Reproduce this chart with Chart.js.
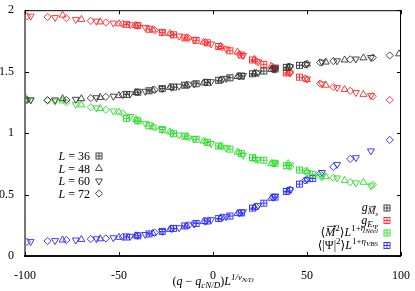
<!DOCTYPE html>
<html><head><meta charset="utf-8">
<script src="https://cdn.jsdelivr.net/npm/chart.js@4.4.0/dist/chart.umd.min.js"></script>
<style>html,body{margin:0;padding:0;background:#fff;}#wrap{width:415px;height:291px;position:relative;}</style>
</head><body><div id="wrap"><canvas id="c" width="415" height="291"></canvas></div>
<script>
// ---- data ----
const xTicks = [-100, -50, 0, 50, 100];
const yTicks = [0, 0.5, 1, 1.5, 2];
const sizes = ['36', '48', '60', '72'];

const x36 = [-46, -40, -34, -27, -21, -15, -9, -3, 3, 9, 15, 21, 27, 33, 39, 46, 53];
const gMs36 = [1.315, 1.333, 1.345, 1.362, 1.375, 1.39, 1.402, 1.413, 1.43, 1.45, 1.465, 1.483, 1.505, 1.522, 1.535, 1.552, null];
const gE36 = [1.885, 1.875, 1.845, 1.82, 1.80, 1.775, 1.755, 1.735, 1.705, 1.67, 1.635, 1.595, 1.56, 1.53, 1.49, 1.455, null];
const neel36 = [1.12, 1.10, 1.06, 1.03, 0.995, 0.975, 0.95, 0.925, 0.895, 0.87, 0.835, 0.80, 0.78, 0.755, 0.735, 0.70, 0.665];
const vbs36 = [0.155, 0.165, 0.18, 0.20, 0.225, 0.245, 0.265, 0.285, 0.305, 0.325, 0.35, 0.39, 0.43, 0.48, 0.525, 0.585, 0.63];

const x48 = [-100, -80, -70, -60, -50, -41, -32, -23, -14, -5, 4, 13, 22, 31, 40, 50, 60, 70, 80, 99];
const gMs48 = [1.27, 1.28, 1.28, 1.29, 1.305, 1.33, 1.35, 1.372, 1.39, 1.408, 1.432, 1.46, 1.486, 1.518, 1.538, 1.562, 1.578, 1.595, 1.612, 1.645];
const gE48 = [null, 1.96, 1.925, 1.905, 1.89, 1.876, 1.84, 1.81, 1.775, 1.74, 1.705, 1.66, 1.60, 1.545, 1.49, 1.435, 1.39, 1.355, 1.315, null];
const neel48 = [1.298, 1.262, 1.23, 1.20, 1.17, 1.11, 1.05, 1.01, 0.97, 0.935, 0.895, 0.845, 0.79, 0.752, 0.752, 0.69, 0.645, 0.615, 0.60, null];
const vbs48 = [null, 0.13, 0.135, 0.14, 0.152, 0.165, 0.185, 0.215, 0.245, 0.28, 0.31, 0.345, 0.395, 0.47, 0.53, 0.625, null, null, null, null];

const x60 = [-97, -84, -73, -62, -53, -44, -36, -27, -18, -10, -1, 7, 16, 24, 33, 41, 50, 58, 66, 76, 84];
const gMs60 = [1.27, 1.27, 1.275, 1.288, 1.30, 1.32, 1.34, 1.362, 1.382, 1.40, 1.418, 1.445, 1.468, 1.49, 1.52, 1.54, 1.56, 1.578, 1.588, 1.603, 1.615];
const gE60 = [1.952, 1.94, 1.925, 1.91, 1.895, 1.882, 1.86, 1.822, 1.79, 1.76, 1.725, 1.685, 1.632, 1.58, 1.532, 1.49, 1.44, 1.40, 1.37, 1.33, 1.305];
const neel60 = [1.27, 1.26, 1.235, 1.205, 1.18, 1.135, 1.08, 1.03, 0.985, 0.955, 0.915, 0.88, 0.82, 0.785, 0.755, 0.74, 0.68, 0.645, 0.635, 0.595, 0.57];
const vbs60 = [0.117, 0.125, 0.13, 0.14, 0.148, 0.16, 0.175, 0.2, 0.23, 0.26, 0.295, 0.32, 0.36, 0.41, 0.485, 0.54, 0.62, 0.68, 0.745, 0.80, 0.855];

const x72 = [-99, -88, -78, -65, -57, -48, -40, -31, -22, -13, -4, 5, 14, 23, 32, 41, 49, 57, 64, 73, 85, 94];
const gMs72 = [1.27, 1.268, 1.27, 1.285, 1.295, 1.31, 1.333, 1.352, 1.372, 1.392, 1.412, 1.437, 1.462, 1.49, 1.52, 1.54, 1.558, 1.575, 1.586, 1.6, 1.615, 1.632];
const gE72 = [1.95, 1.945, 1.935, 1.913, 1.9, 1.888, 1.875, 1.836, 1.802, 1.772, 1.738, 1.697, 1.643, 1.588, 1.537, 1.49, 1.445, 1.403, 1.375, 1.344, 1.30, 1.27];
const neel72 = [1.27, 1.265, 1.25, 1.21, 1.19, 1.16, 1.10, 1.045, 1.0, 0.965, 0.93, 0.89, 0.84, 0.785, 0.755, 0.725, 0.69, 0.65, 0.637, 0.60, 0.58, null];
const vbs72 = [0.115, 0.122, 0.13, 0.138, 0.143, 0.155, 0.165, 0.19, 0.22, 0.25, 0.28, 0.315, 0.35, 0.40, 0.475, 0.54, 0.615, 0.67, 0.725, 0.79, null, 0.945];

// ---- styling ----
const FONT = '"Liberation Serif", "DejaVu Serif", serif';
const colors = {gMs: '#333333', gE: '#ff2828', neel: '#28dd28', vbs: '#2828ff'};

function boxPlus(color) {
  const c = document.createElement('canvas');
  c.width = 9; c.height = 9;
  const g = c.getContext('2d');
  g.strokeStyle = color; g.lineWidth = 0.9;
  g.strokeRect(1.5, 1.5, 6, 6);
  g.beginPath();
  g.moveTo(4.5, 1.5); g.lineTo(4.5, 7.5);
  g.moveTo(1.5, 4.5); g.lineTo(7.5, 4.5);
  g.stroke();
  return c;
}
function markerFor(L, color) {
  if (L === '36') return {pointStyle: boxPlus(color), rotation: 0, radius: 4.5};
  if (L === '48') return {pointStyle: 'triangle', rotation: 0, radius: 4};
  if (L === '60') return {pointStyle: 'triangle', rotation: 180, radius: 4};
  return {pointStyle: 'rectRot', rotation: 0, radius: 3.6};
}

const xs = {'36': x36, '48': x48, '60': x60, '72': x72};
const series = {
  gMs: {'36': gMs36, '48': gMs48, '60': gMs60, '72': gMs72},
  gE: {'36': gE36, '48': gE48, '60': gE60, '72': gE72},
  neel: {'36': neel36, '48': neel48, '60': neel60, '72': neel72},
  vbs: {'36': vbs36, '48': vbs48, '60': vbs60, '72': vbs72}
};

const datasets = [];
for (const q of ['gMs', 'gE', 'neel', 'vbs']) {
  for (const L of sizes) {
    const pts = [];
    xs[L].forEach((xv, i) => { const yv = series[q][L][i]; if (yv !== null) pts.push({x: xv, y: yv}); });
    const m = markerFor(L, colors[q]);
    datasets.push({
      label: q + ' L=' + L, data: pts, showLine: false,
      pointStyle: m.pointStyle, rotation: m.rotation, pointRadius: m.radius,
      borderColor: colors[q], backgroundColor: 'rgba(0,0,0,0)', borderWidth: 0.9
    });
  }
}

function fnt(p) { return (p[2] ? 'italic ' : '') + p[1] + 'px ' + FONT; }
function drawRich(ctx, x, y, parts, align) {
  let w = 0; const ws = [];
  for (const p of parts) { ctx.font = fnt(p); const m = ctx.measureText(p[0]).width; ws.push(m); w += m; }
  let cx = align === 'right' ? x - w : (align === 'center' ? x - w / 2 : x);
  parts.forEach((p, i) => {
    ctx.font = fnt(p);
    ctx.fillText(p[0], cx, y + (p[3] || 0));
    if (p[4]) {
      const ay = y + (p[3] || 0) - p[1] * 0.8;
      const x0 = cx + p[1] * 0.15, x1 = cx + ws[i] + p[1] * 0.05;
      ctx.beginPath(); ctx.lineWidth = 0.7;
      ctx.moveTo(x0, ay); ctx.lineTo(x1, ay);
      ctx.moveTo(x1 - 2, ay - 1.3); ctx.lineTo(x1, ay); ctx.lineTo(x1 - 2, ay + 1.3);
      ctx.stroke();
    }
    cx += ws[i];
  });
}

const decor = {
  id: 'decor',
  afterDraw(chart) {
    const ctx = chart.ctx, a = chart.chartArea;
    const xs_ = chart.scales.x, ys_ = chart.scales.y;
    ctx.save();
    // frame
    ctx.strokeStyle = '#000'; ctx.lineWidth = 1;
    ctx.beginPath();
    ctx.moveTo(a.left, a.top + 0.5); ctx.lineTo(a.right - 0.5, a.top + 0.5); ctx.lineTo(a.right - 0.5, a.bottom);
    ctx.stroke();
    ctx.strokeStyle = '#777'; ctx.lineWidth = 2;
    ctx.beginPath(); ctx.moveTo(a.left, a.top); ctx.lineTo(a.left, a.bottom); ctx.stroke();
    ctx.strokeStyle = '#111'; ctx.lineWidth = 2;
    ctx.beginPath(); ctx.moveTo(a.left - 1, a.bottom); ctx.lineTo(a.right, a.bottom); ctx.stroke();
    // inward ticks
    ctx.strokeStyle = '#000'; ctx.lineWidth = 1;
    ctx.beginPath();
    for (const v of xTicks) {
      const px = Math.round(xs_.getPixelForValue(v)) + 0.5;
      ctx.moveTo(px, a.bottom); ctx.lineTo(px, a.bottom - 4);
      ctx.moveTo(px, a.top); ctx.lineTo(px, a.top + 4);
    }
    for (const v of yTicks) {
      const py = Math.round(ys_.getPixelForValue(v)) + 0.5;
      ctx.moveTo(a.left, py); ctx.lineTo(a.left + 4, py);
      ctx.moveTo(a.right, py); ctx.lineTo(a.right - 4, py);
    }
    ctx.stroke();

    ctx.fillStyle = '#000'; ctx.strokeStyle = '#000';
    ctx.textBaseline = 'alphabetic';
    // x title
    drawRich(ctx, (a.left + a.right) / 2, 285, [
      ['(', 12, 0, 0], ['q', 12, 1, 0], [' \u2212 ', 12, 0, 0], ['q', 12, 1, 0], ['cN/D', 9, 1, 3],
      [')', 12, 0, 0], ['L', 12, 1, 0], ['1/\u03BD', 9, 1, -5], ['N/D', 7, 1, -3]
    ], 'center');

    // left legend
    const lRows = [156, 168.5, 181, 193.5];
    sizes.forEach((L, i) => {
      ctx.fillStyle = '#000';
      drawRich(ctx, 90, lRows[i] + 4, [['L', 12, 1, 0], [' = ' + L, 12, 0, 0]], 'right');
      const m = markerFor(L, colors.gMs);
      ctx.strokeStyle = colors.gMs; ctx.fillStyle = 'rgba(0,0,0,0)'; ctx.lineWidth = 0.9;
      Chart.helpers.drawPoint(ctx, {pointStyle: m.pointStyle, rotation: m.rotation, radius: m.radius, borderWidth: 0.9}, 99, lRows[i]);
    });

    // right legend
    const rRows = [208, 220.5, 233, 245.5];
    const rText = [
      [['g', 12, 1, 0], ['M', 9, 1, 3, 1], ['s', 7, 1, 5]],
      [['g', 12, 1, 0], ['E', 9, 1, 3], ['\u03A8', 7, 0, 5]],
      [['\u27E8', 12, 0, 0], ['M', 12, 1, 0, 1], ['2', 9, 0, -5], ['\u27E9', 12, 0, 0], ['L', 12, 1, 0], ['1+', 9, 0, -5], ['\u03B7', 9, 1, -5], ['N\u00E9el', 7, 1, -3]],
      [['\u27E8', 12, 0, 0], ['|\u03A8|', 12, 0, 0], ['2', 9, 0, -5], ['\u27E9', 12, 0, 0], ['L', 12, 1, 0], ['1+', 9, 0, -5], ['\u03B7', 9, 1, -5], ['VBS', 7, 1, -3]]
    ];
    const qs = ['gMs', 'gE', 'neel', 'vbs'];
    qs.forEach((q, i) => {
      ctx.fillStyle = '#000'; ctx.strokeStyle = '#000';
      drawRich(ctx, 378, rRows[i] + 3, rText[i], 'right');
      ctx.strokeStyle = colors[q]; ctx.fillStyle = 'rgba(0,0,0,0)';
      Chart.helpers.drawPoint(ctx, {pointStyle: boxPlus(colors[q]), rotation: 0, radius: 4.5, borderWidth: 0.9}, 387, rRows[i]);
    });
    ctx.restore();
  }
};

new Chart(document.getElementById('c'), {
  type: 'scatter',
  data: {datasets},
  options: {
    responsive: false, animation: false, devicePixelRatio: 1,
    layout: {padding: {top: 9, right: 13, left: 0, bottom: 0}},
    plugins: {legend: {display: false}, tooltip: {enabled: false}},
    scales: {
      x: {
        type: 'linear', min: -100, max: 100,
        afterBuildTicks: s => { s.ticks = xTicks.map(v => ({value: v})); },
        afterFit: s => { s.height = 35; },
        grid: {display: false}, border: {display: false},
        ticks: {color: '#000', font: {family: FONT, size: 12}, padding: 5, maxRotation: 0, autoSkip: false, callback: v => String(v)}
      },
      y: {
        type: 'linear', min: 0, max: 2,
        afterBuildTicks: s => { s.ticks = yTicks.map(v => ({value: v})); },
        afterFit: s => { s.width = 25; },
        grid: {display: false}, border: {display: false},
        ticks: {color: '#000', font: {family: FONT, size: 12}, padding: 3, autoSkip: false, callback: v => String(v)}
      }
    }
  },
  plugins: [decor]
});
</script>
</body></html>
